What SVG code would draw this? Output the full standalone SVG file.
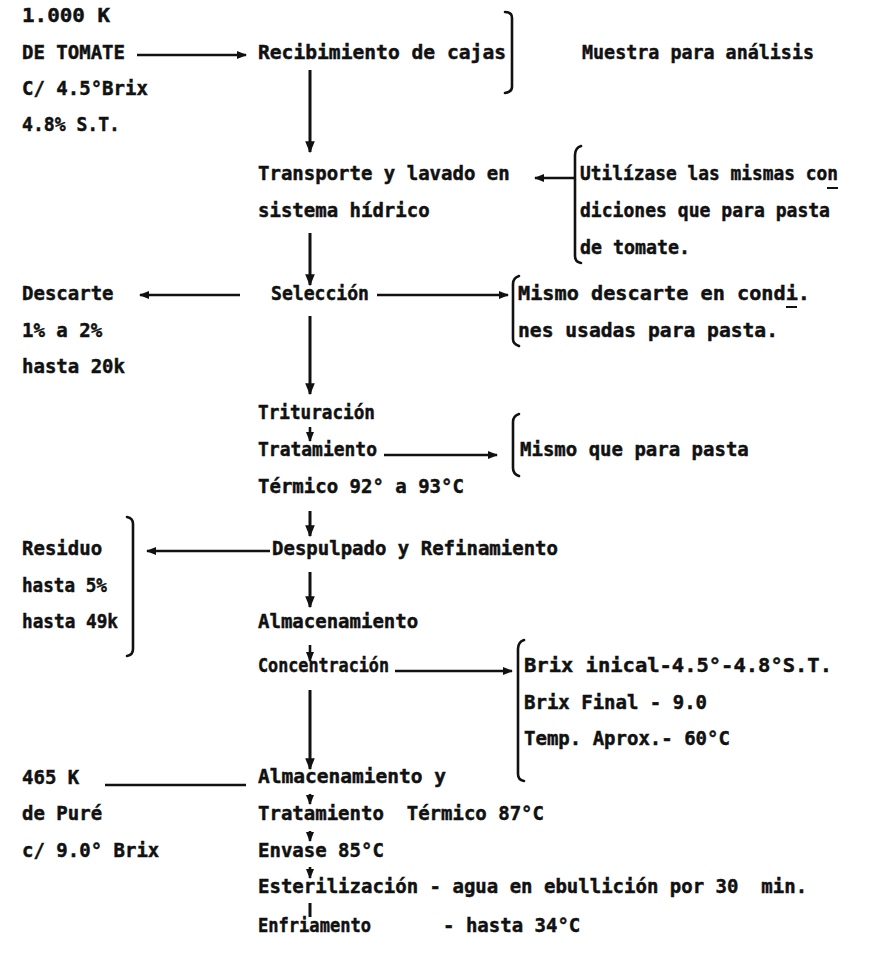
<svg xmlns="http://www.w3.org/2000/svg" width="869" height="965" viewBox="0 0 869 965">
  <style>
    text { font-family: "DejaVu Sans Mono", "Liberation Mono", monospace; font-weight: bold; font-size: 19px; fill: #111; stroke: #111; stroke-width: 0.45; }
    .ln { stroke: #111; stroke-width: 2.6; fill: none; }
    .vl { stroke: #111; stroke-width: 3; fill: none; }
    .br { stroke: #111; stroke-width: 2.6; fill: none; stroke-linecap: round; }
    .ul { stroke: #111; stroke-width: 2; }
  </style>
  <defs>
    <marker id="ah" viewBox="0 0 10 10" refX="9" refY="5" markerWidth="4" markerHeight="4" orient="auto" markerUnits="strokeWidth">
      <path d="M0,1 L10,5 L0,9 z" fill="#111"/>
    </marker>
  </defs>
  <rect width="869" height="965" fill="#fff"/>

  <!-- raw material -->
  <g id="entrada">
    <text x="22" y="22" textLength="88" lengthAdjust="spacingAndGlyphs">1.000 K</text>
    <text x="22" y="59">DE TOMATE</text>
    <text x="22" y="95">C/ 4.5°Brix</text>
    <text x="22" y="131" textLength="98" lengthAdjust="spacingAndGlyphs">4.8% S.T.</text>
  </g>
  <g id="recibimiento">
    <text x="258" y="59" textLength="248" lengthAdjust="spacingAndGlyphs">Recibimiento de cajas</text>
    <path class="br" d="M505,12 Q512,12 512,18 V87 Q512,92 505,93"/>
  </g>
  <g id="muestra">
    <text x="582" y="59" textLength="232" lengthAdjust="spacingAndGlyphs">Muestra para análisis</text>
  </g>
  <g id="transporte">
    <text x="258" y="180">Transporte y lavado en</text>
    <text x="258" y="217">sistema hídrico</text>
  </g>
  <g id="nota-lavado">
    <path class="br" d="M581,146 Q575,148 575,155 V256 Q575,262 581,263"/>
    <text x="580" y="180" textLength="258" lengthAdjust="spacingAndGlyphs">Utilízase las mismas con</text>
    <line class="ul" x1="827" y1="188" x2="838" y2="188"/>
    <text x="580" y="217" textLength="250" lengthAdjust="spacingAndGlyphs">diciones que para pasta</text>
    <text x="580" y="254" textLength="110" lengthAdjust="spacingAndGlyphs">de tomate.</text>
  </g>
  <g id="seleccion">
    <text x="271" y="300" textLength="98" lengthAdjust="spacingAndGlyphs">Selección</text>
  </g>
  <g id="descarte">
    <text x="22" y="300">Descarte</text>
    <text x="22" y="337">1% a 2%</text>
    <text x="22" y="373">hasta 20k</text>
  </g>
  <g id="nota-descarte">
    <path class="br" d="M519,276 Q513,278 513,284 V339 Q513,344 519,346"/>
    <text x="518" y="300" textLength="292" lengthAdjust="spacingAndGlyphs">Mismo descarte en condi.</text>
    <line class="ul" x1="786" y1="307" x2="797" y2="307"/>
    <text x="518" y="337" textLength="260" lengthAdjust="spacingAndGlyphs">nes usadas para pasta.</text>
  </g>
  <g id="trituracion">
    <text x="258" y="419" textLength="117" lengthAdjust="spacingAndGlyphs">Trituración</text>
  </g>
  <g id="tratamiento-termico">
    <text x="258" y="456" textLength="119" lengthAdjust="spacingAndGlyphs">Tratamiento</text>
    <text x="258" y="493">Térmico 92° a 93°C</text>
  </g>
  <g id="nota-tratamiento">
    <path class="br" d="M519,414 Q513,416 513,422 V468 Q513,474 519,476"/>
    <text x="520" y="456">Mismo que para pasta</text>
  </g>
  <g id="despulpado">
    <text x="272" y="555">Despulpado y Refinamiento</text>
  </g>
  <g id="residuo">
    <text x="22" y="555">Residuo</text>
    <text x="22" y="592" textLength="85" lengthAdjust="spacingAndGlyphs">hasta 5%</text>
    <text x="22" y="628" textLength="96" lengthAdjust="spacingAndGlyphs">hasta 49k</text>
    <path class="br" d="M127,517 Q133,518 133,524 V649 Q133,655 127,656"/>
  </g>
  <g id="almacenamiento">
    <text x="258" y="628">Almacenamiento</text>
  </g>
  <g id="concentracion">
    <text x="258" y="672" textLength="131" lengthAdjust="spacingAndGlyphs">Concentración</text>
  </g>
  <g id="nota-concentracion">
    <path class="br" d="M524,640 Q518,642 518,649 V774 Q518,780 524,781"/>
    <text x="524" y="672" textLength="308" lengthAdjust="spacingAndGlyphs">Brix inical-4.5°-4.8°S.T.</text>
    <text x="524" y="709">Brix Final - 9.0</text>
    <text x="524" y="745">Temp. Aprox.- 60°C</text>
  </g>
  <g id="producto">
    <text x="22" y="784">465 K</text>
    <text x="22" y="820">de Puré</text>
    <text x="22" y="857">c/ 9.0° Brix</text>
  </g>
  <g id="almacenamiento-tratamiento">
    <text x="258" y="783" textLength="188" lengthAdjust="spacingAndGlyphs">Almacenamiento y</text>
    <text x="258" y="820" xml:space="preserve">Tratamiento  Térmico 87°C</text>
  </g>
  <g id="envase">
    <text x="258" y="857">Envase 85°C</text>
  </g>
  <g id="esterilizacion">
    <text x="258" y="893" xml:space="preserve">Esterilización - agua en ebullición por 30  min.</text>
  </g>
  <g id="enfriamento">
    <text x="258" y="932" textLength="113" lengthAdjust="spacingAndGlyphs">Enfriamento</text>
    <text x="443" y="932">- hasta 34°C</text>
  </g>

  <g id="conectores">
    <!-- side inputs and outputs -->
    <line class="ln" x1="137" y1="55" x2="246" y2="55" marker-end="url(#ah)"/>
    <line class="ln" x1="575" y1="178" x2="535" y2="178" marker-end="url(#ah)"/>
    <line class="ln" x1="240" y1="295" x2="140" y2="295" marker-end="url(#ah)"/>
    <line class="ln" x1="377" y1="295" x2="508" y2="295" marker-end="url(#ah)"/>
    <line class="ln" x1="384" y1="455" x2="497" y2="455" marker-end="url(#ah)"/>
    <line class="ln" x1="270" y1="551" x2="147" y2="551" marker-end="url(#ah)"/>
    <line class="ln" x1="395" y1="671" x2="512" y2="671" marker-end="url(#ah)"/>
    <line class="ln" x1="105" y1="785" x2="246" y2="785"/>
    <!-- main process line -->
    <line class="vl" x1="310" y1="70" x2="310" y2="152" marker-end="url(#ah)"/>
    <line class="vl" x1="310" y1="233" x2="310" y2="285" marker-end="url(#ah)"/>
    <line class="vl" x1="310" y1="316" x2="310" y2="394" marker-end="url(#ah)"/>
    <line class="ln" x1="310" y1="427" x2="310" y2="441" marker-end="url(#ah)"/>
    <line class="vl" x1="310" y1="511" x2="310" y2="536" marker-end="url(#ah)"/>
    <line class="vl" x1="310" y1="572" x2="310" y2="607" marker-end="url(#ah)"/>
    <line class="ln" x1="310" y1="645" x2="310" y2="661" marker-end="url(#ah)"/>
    <line class="vl" x1="310" y1="690" x2="310" y2="769" marker-end="url(#ah)"/>
    <line class="ln" x1="310" y1="794" x2="310" y2="804" marker-end="url(#ah)"/>
    <line class="ln" x1="310" y1="831" x2="310" y2="841" marker-end="url(#ah)"/>
    <line class="ln" x1="310" y1="867" x2="310" y2="878" marker-end="url(#ah)"/>
    <line class="vl" x1="310" y1="903" x2="310" y2="917"/>
  </g>
</svg>
